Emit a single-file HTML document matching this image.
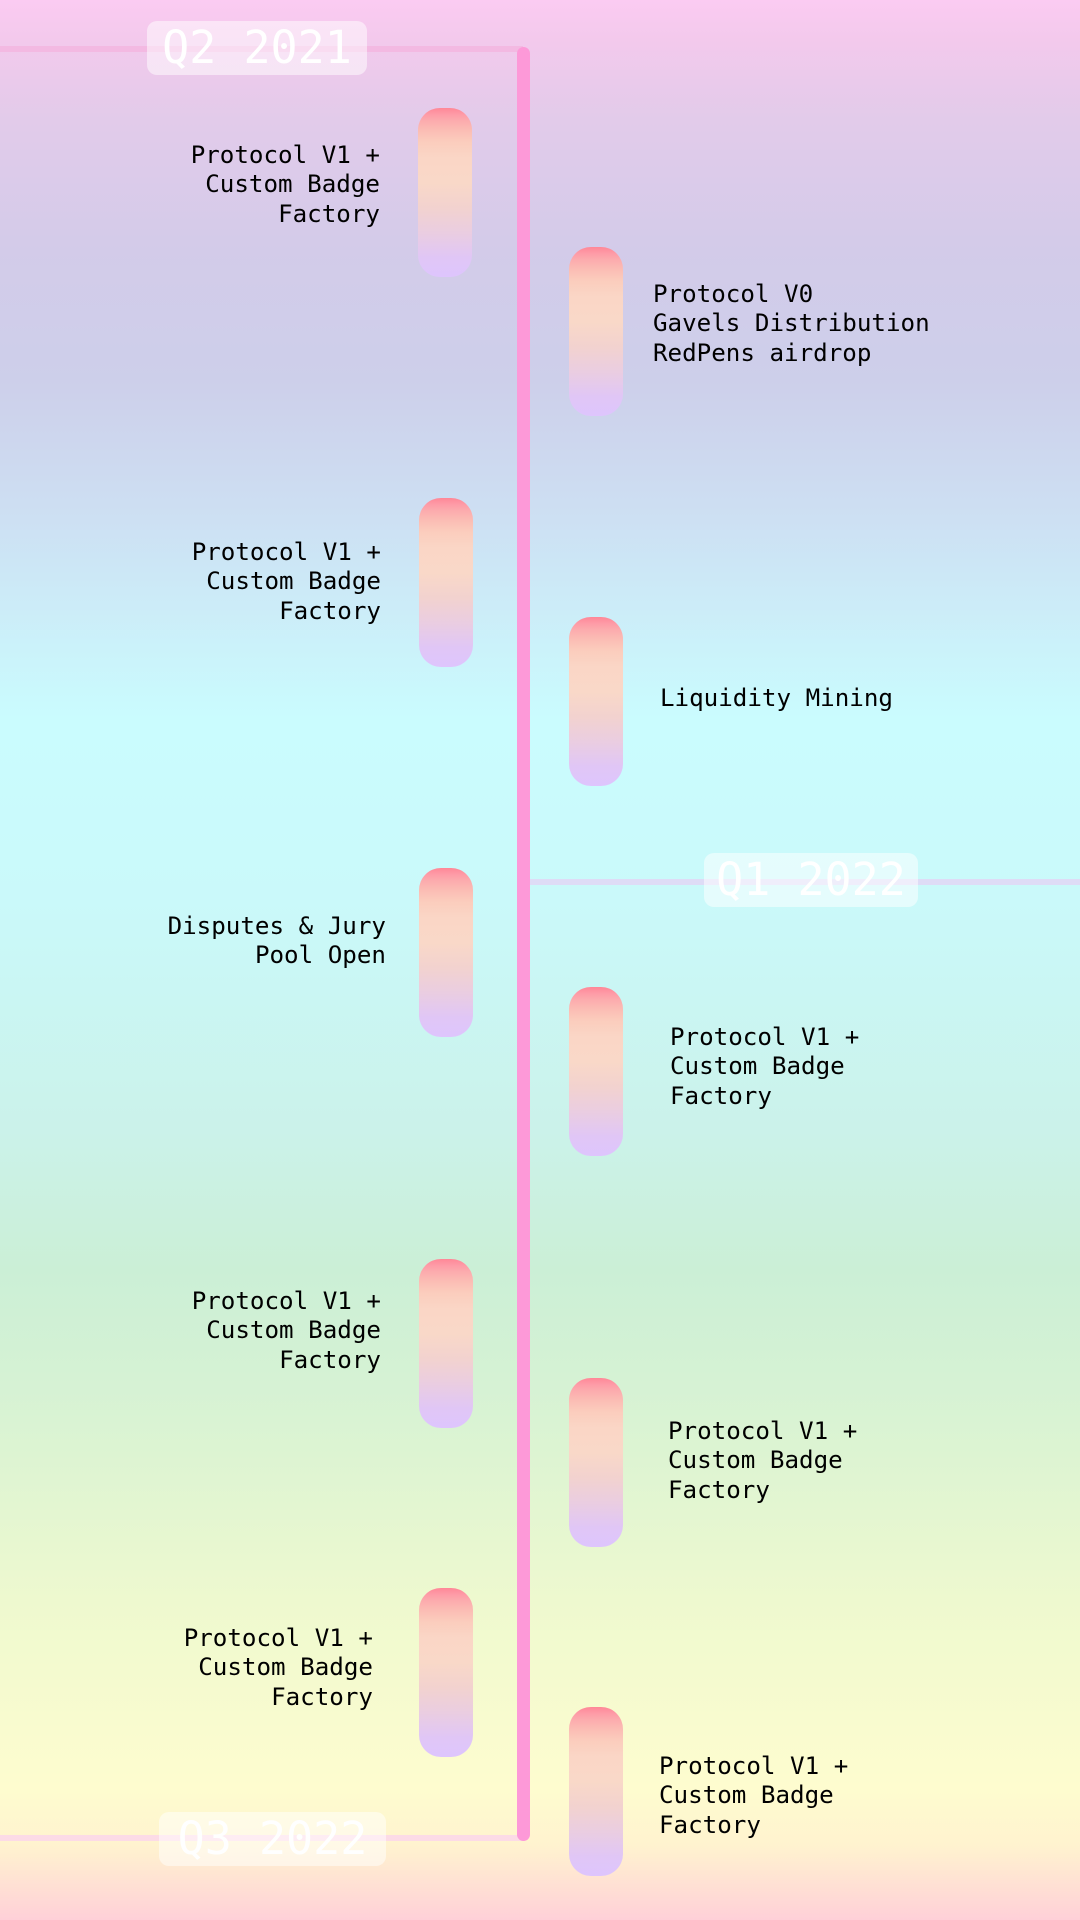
<!DOCTYPE html>
<html><head><meta charset="utf-8"><style>
html,body{margin:0;padding:0}
body{width:1080px;height:1920px;position:relative;overflow:hidden;
background:linear-gradient(180deg,#fbcbf2 0px,#f3c9ec 40px,#e2cbea 120px,#d3cbe9 250px,#cdcfea 380px,#cde0f3 520px,#cafcfe 720px,#caf9fa 900px,#cbf2ea 1130px,#cbefd6 1270px,#d9f3d3 1420px,#eef9cf 1600px,#fefccf 1790px,#fff3cf 1845px,#ffd0d8 1920px);
font-family:"DejaVu Sans Mono","Liberation Mono",monospace;}
.hline{position:absolute;height:6px}
.qlabel{position:absolute;background:rgba(255,255,255,0.5);border-radius:10px;color:#fff;font-family:"DejaVu Sans Mono","Liberation Mono",monospace;font-size:45px;line-height:54px;text-align:center}
.pill{position:absolute;width:54px;height:169px;border-radius:22px;
background:linear-gradient(180deg,#ff8797 0px,#fe9aa6 6px,#fcaaad 12px,#fbbcb4 22px,#fbcdbd 34px,#fad6c6 50px,#f9d8c8 75px,#f2d2cf 100px,#eacde1 125px,#e0c6f6 150px,#dec5fd 169px)}
.txt{position:absolute;font-size:24.2px;line-height:29.4px;color:#000;white-space:pre}
</style></head><body>
<div class="hline" style="left:0;top:46px;width:523px;background:#f3b9e2"></div>
<div class="hline" style="left:529px;top:879px;width:551px;background:#dedcf6"></div>
<div class="hline" style="left:0;top:1835px;width:523px;background:#fcdbe6"></div>
<div style="position:absolute;left:517px;top:47px;width:13px;height:1794px;border-radius:7px;background:#fd99d8"></div>
<div class="qlabel" style="left:147px;top:21px;width:220px;height:54px">Q2 2021</div>
<div class="qlabel" style="left:704px;top:853px;width:214px;height:54px">Q1 2022</div>
<div class="qlabel" style="left:159px;top:1812px;width:227px;height:54px">Q3 2022</div>
<div id="items"></div>
<script>
const sides=["L","R","L","R","L","R","L","R","L","R"];
const labels=["Protocol V1 +\nCustom Badge\nFactory","Protocol V0\nGavels Distribution\nRedPens airdrop","Protocol V1 +\nCustom Badge\nFactory","Liquidity Mining","Disputes & Jury\nPool Open","Protocol V1 +\nCustom Badge\nFactory","Protocol V1 +\nCustom Badge\nFactory","Protocol V1 +\nCustom Badge\nFactory","Protocol V1 +\nCustom Badge\nFactory","Protocol V1 +\nCustom Badge\nFactory"];
const pillTops=[108,247,498,617,868,987,1259,1378,1588,1707];
const textCenters=[185,324,582,699,941,1067,1331,1461,1668,1796];
const textEdges=[380,653,381,660,386,670,381,668,373,659];
const root=document.getElementById('items');
for(let i=0;i<labels.length;i++){
  const p=document.createElement('div');
  p.className='pill';
  
  
  p.style.left=(sides[i]==="L"?(i===0?418:419):569)+'px';
  p.style.top=pillTops[i]+'px';
  root.appendChild(p);
  const t=document.createElement('div');
  t.className='txt';
  
  
  t.textContent=labels[i];
  const n=labels[i].split('\n').length;
  t.style.top=(textCenters[i]-n*29.4/2)+'px';
  if(sides[i]==="L"){t.style.right=(1080-textEdges[i])+'px';t.style.textAlign='right';}
  else{t.style.left=textEdges[i]+'px';}
  root.appendChild(t);
}
</script>
</body></html>
